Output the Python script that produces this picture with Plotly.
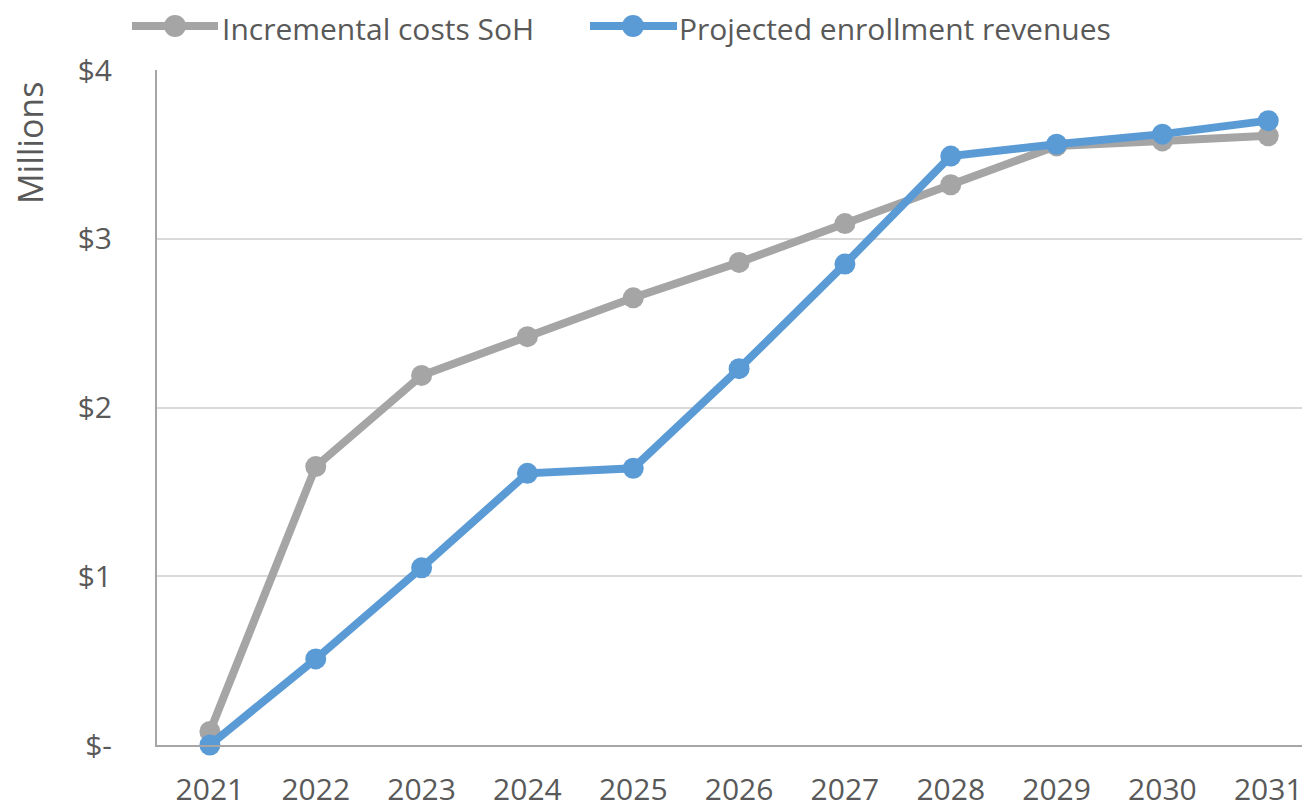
import plotly.graph_objects as go

years = ["2021", "2022", "2023", "2024", "2025", "2026", "2027", "2028", "2029", "2030", "2031"]
incremental_costs = [0.08, 1.65, 2.19, 2.42, 2.65, 2.86, 3.09, 3.32, 3.55, 3.58, 3.61]
enrollment_revenues = [0.0, 0.51, 1.05, 1.61, 1.64, 2.23, 2.85, 3.49, 3.56, 3.62, 3.70]
y_tickvals = [0, 1, 2, 3, 4]
y_ticktext = ["$-", "$1", "$2", "$3", "$4"]
series_names = ["Incremental costs SoH", "Projected enrollment revenues"]
series_colors = ["#a5a5a5", "#5b9bd5"]

FONT = "'Open Sans', sans-serif"
TXT = "#595959"
OFF = 8  # default page body margin
W, H = 1310, 808
ML, MR, MT, MB = 149, 0, 62, 71
PW, PH = W - ML - MR, H - MT - MB


def px_x(p):
    return (p - OFF - ML) / PW


def px_y(p):
    return (H - MB - (p - OFF)) / PH


fig = go.Figure()
for name, vals, col in zip(series_names, [incremental_costs, enrollment_revenues], series_colors):
    fig.add_trace(go.Scatter(
        x=list(range(len(years))), y=vals, name=name,
        mode="lines+markers", line=dict(color=col, width=8),
        marker=dict(color=col, size=21), cliponaxis=False, showlegend=False))

fig.update_layout(
    width=W, height=H, autosize=False,
    margin=dict(l=ML, r=MR, t=MT, b=MB, autoexpand=False),
    paper_bgcolor="white", plot_bgcolor="white",
    font=dict(family=FONT, color=TXT, size=30),
    showlegend=False,
    xaxis=dict(tickmode="array", tickvals=list(range(len(years))), ticktext=years,
               range=[-0.5, 10.47], showgrid=False, zeroline=False,
               showline=True, linecolor="#a6a6a6", linewidth=2,
               ticks="", tickfont=dict(size=30, color=TXT), ticklabelstandoff=17),
    yaxis=dict(range=[0, 4], tickvals=y_tickvals, ticktext=y_ticktext,
               showgrid=True, gridcolor="#d9d9d9", gridwidth=2, zeroline=False,
               showline=True, linecolor="#a6a6a6", linewidth=2,
               ticks="", tickfont=dict(size=30, color=TXT), ticklabelstandoff=37),
)

# manual legend (Excel-style long symbol), page pixel positions
legend_items = [
    (132, 218, 175, 221),
    (590, 677, 633, 678),
]
ly = 28
for (x0, x1, xc, xt), name, col in zip(legend_items, series_names, series_colors):
    fig.add_shape(type="line", xref="paper", yref="paper",
                  x0=px_x(x0), x1=px_x(x1), y0=px_y(ly - 2), y1=px_y(ly - 2),
                  line=dict(color=col, width=8))
    fig.add_shape(type="circle", xref="paper", yref="paper",
                  x0=px_x(xc - 11), x1=px_x(xc + 11), y0=px_y(ly - 13), y1=px_y(ly + 9),
                  line=dict(width=0), fillcolor=col)
    fig.add_annotation(text=name, xref="paper", yref="paper", x=px_x(xt), y=px_y(ly),
                       xanchor="left", yanchor="middle", showarrow=False, borderpad=0,
                       font=dict(size=30, color=TXT, family=FONT))

fig.add_annotation(text="Millions", xref="paper", yref="paper", x=px_x(30), y=px_y(143),
                   textangle=-90, showarrow=False, xanchor="center", yanchor="middle",
                   font=dict(size=34, color=TXT, family=FONT))
fig.write_html("out.html")
